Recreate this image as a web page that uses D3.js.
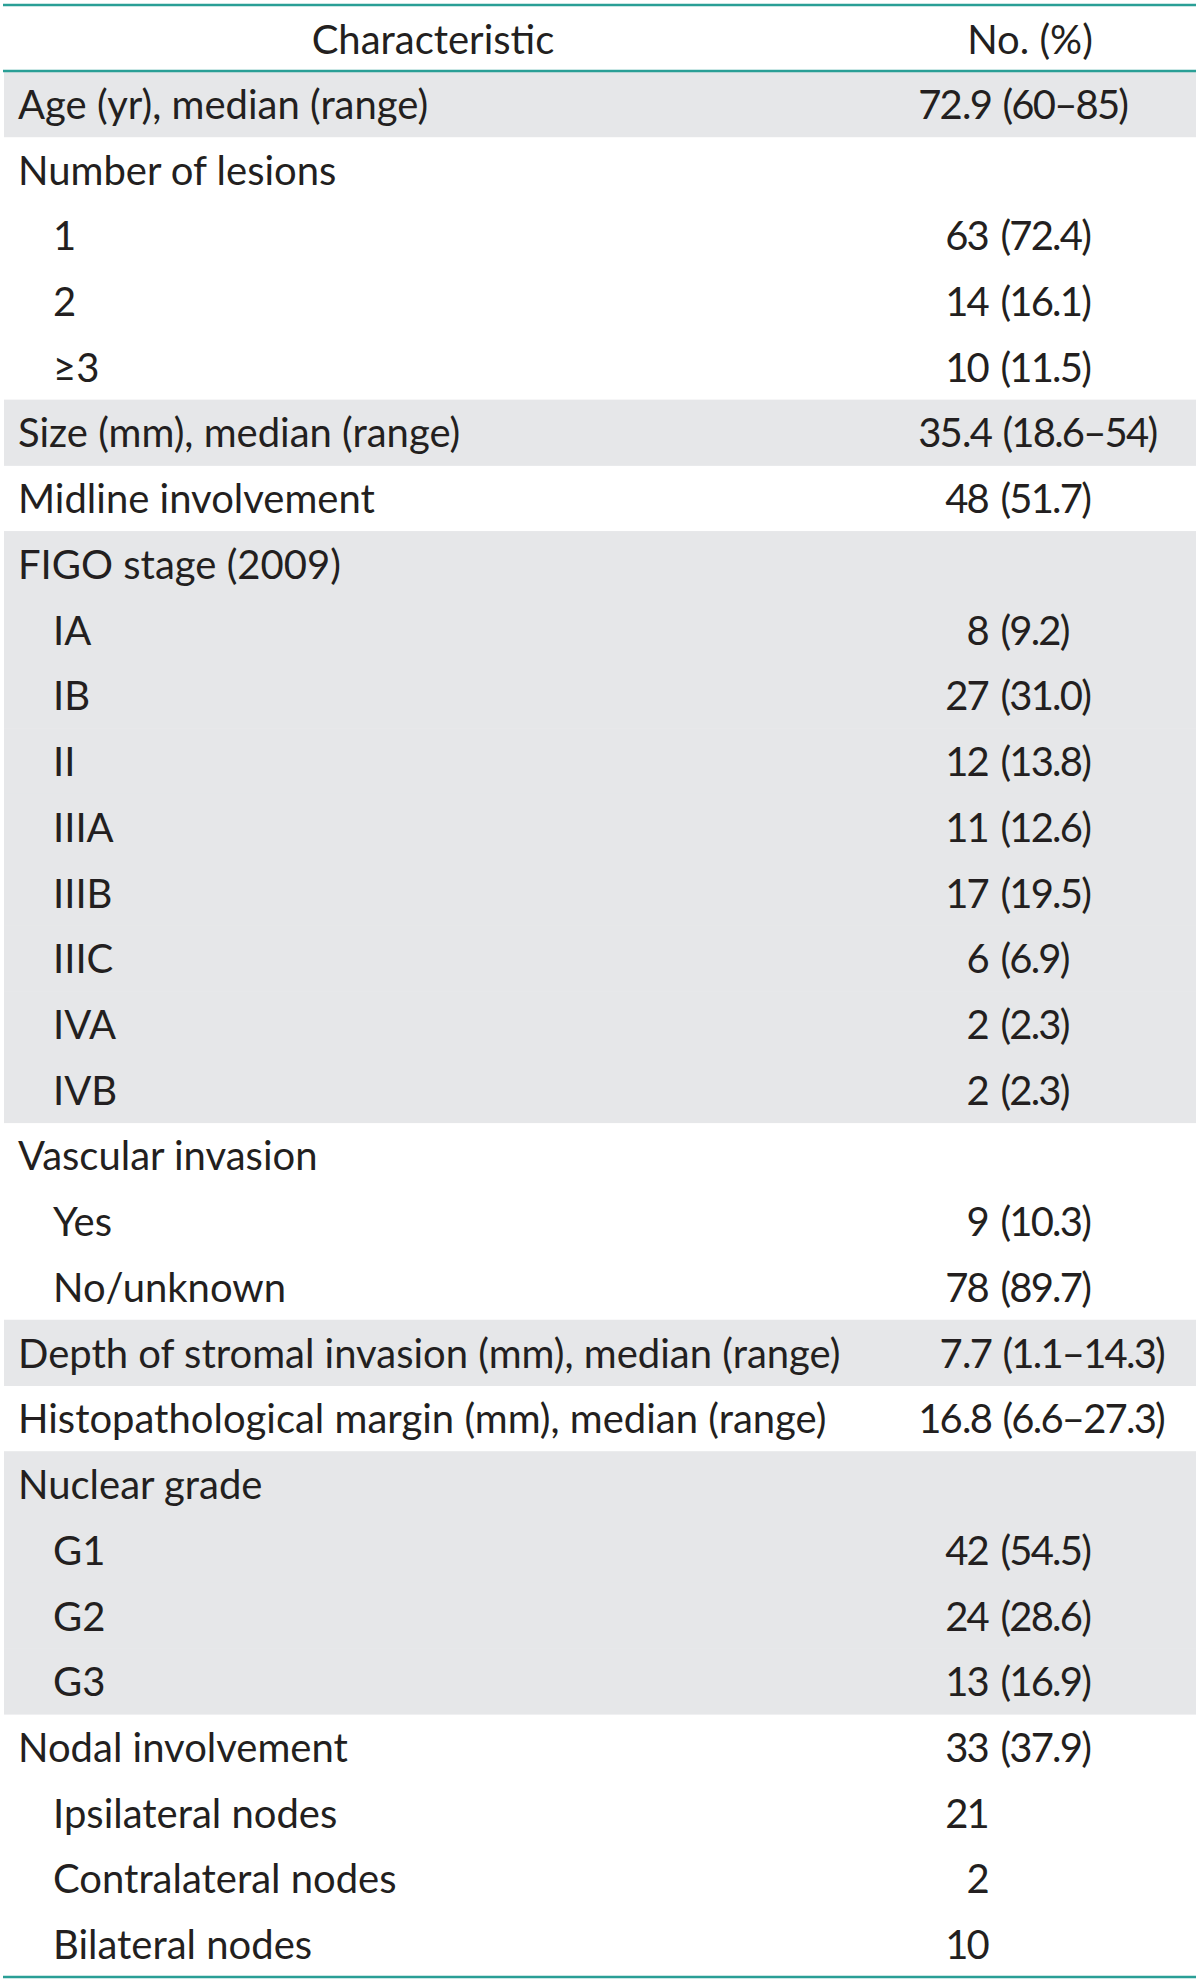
<!DOCTYPE html>
<html>
<head>
<meta charset="utf-8">
<script src="https://cdn.jsdelivr.net/npm/d3@7"></script>
<style>
  body { margin: 0; background: #fff; }
  svg text { font-family: Lato, "Open Sans", sans-serif; fill: #231f20; white-space: pre; }
  svg text.whole, svg text.rest { letter-spacing: -1.8px; word-spacing: 3px; }
</style>
</head>
<body>
<div id="table1"></div>
<script>
// table content
var headers = ["Characteristic", "No. (%)"];

var rowLabels = [
  "Age (yr), median (range)", "Number of lesions", "1", "2", "\u22653",
  "Size (mm), median (range)", "Midline involvement", "FIGO stage (2009)",
  "IA", "IB", "II", "IIIA", "IIIB", "IIIC", "IVA", "IVB",
  "Vascular invasion", "Yes", "No/unknown",
  "Depth of stromal invasion (mm), median (range)",
  "Histopathological margin (mm), median (range)",
  "Nuclear grade", "G1", "G2", "G3",
  "Nodal involvement", "Ipsilateral nodes", "Contralateral nodes", "Bilateral nodes"
];

// 0 = section row, 1 = sub-item
var rowLevels = [0, 0, 1, 1, 1, 0, 0, 0, 1, 1, 1, 1, 1, 1, 1, 1, 0, 1, 1, 0, 0, 0, 1, 1, 1, 0, 1, 1, 1];

var rowValues = [
  "72.9 (60\u201385)", "", "63 (72.4)", "14 (16.1)", "10 (11.5)",
  "35.4 (18.6\u201354)", "48 (51.7)", "",
  "8 (9.2)", "27 (31.0)", "12 (13.8)", "11 (12.6)", "17 (19.5)", "6 (6.9)", "2 (2.3)", "2 (2.3)",
  "", "9 (10.3)", "78 (89.7)",
  "7.7 (1.1\u201314.3)", "16.8 (6.6\u201327.3)",
  "", "42 (54.5)", "24 (28.6)", "13 (16.9)",
  "33 (37.9)", "21", "2", "10"
];

function drawTable() {
  var w = 1200, h = 1981;
  var left = 3, right = 1196;
  var headTop = 5, headBottom = 71, tableBottom = 1977;
  var fontSize = 40;

  var svg = d3.select("#table1")
    .append("svg")
    .attr("width", w)
    .attr("height", h);

  var yScale = d3.scaleBand()
    .domain(d3.range(rowLabels.length))
    .range([headBottom, tableBottom]);

  // groups alternate shading, starting with a shaded one
  var group = -1;
  var shaded = rowLevels.map(function(lv) {
    if (lv === 0) group++;
    return group % 2 === 0;
  });

  svg.append("g")
    .selectAll("rect")
    .data(d3.range(rowLabels.length).filter(function(i) { return shaded[i]; }))
    .enter()
    .append("rect")
    .attr("x", left + 1)
    .attr("y", function(i) { return yScale(i); })
    .attr("width", right - left - 1)
    .attr("height", yScale.bandwidth() + 0.5)
    .attr("fill", "#e6e7e9");

  // rule lines
  svg.append("g")
    .selectAll("line")
    .data([headTop, headBottom, tableBottom])
    .enter()
    .append("line")
    .attr("x1", left)
    .attr("x2", right)
    .attr("y1", function(d) { return d; })
    .attr("y2", function(d) { return d; })
    .attr("stroke", "#2a9f96")
    .attr("stroke-width", 2.6);

  var baseOff = yScale.bandwidth() / 2 + 15;

  // header
  svg.append("text")
    .attr("x", 433)
    .attr("y", 54)
    .attr("text-anchor", "middle")
    .style("font-size", fontSize + "px")
    .text(headers[0]);
  svg.append("text")
    .attr("x", 1030)
    .attr("y", 54)
    .attr("text-anchor", "middle")
    .style("font-size", fontSize + "px")
    .text(headers[1]);

  // labels
  svg.append("g")
    .selectAll("text")
    .data(rowLabels)
    .enter()
    .append("text")
    .attr("x", function(d, i) { return rowLevels[i] ? 53 : 18; })
    .attr("y", function(d, i) { return yScale(i) + baseOff; })
    .style("font-size", fontSize + "px")
    .text(function(d) { return d; });

  // values: integer part right-aligned, remainder follows
  var parts = rowValues.map(function(v, i) {
    var m = v.match(/^(\d+)(.*)$/);
    return m ? { i: i, whole: m[1], rest: m[2], range: v.indexOf("\u2013") >= 0 } : null;
  }).filter(function(d) { return d; });

  function anchorX(d) { return d.range ? 961 : 988; }

  var vals = svg.append("g");
  vals.selectAll("text.whole")
    .data(parts)
    .enter()
    .append("text")
    .attr("class", "whole")
    .attr("x", anchorX)
    .attr("y", function(d) { return yScale(d.i) + baseOff; })
    .attr("text-anchor", "end")
    .style("font-size", fontSize + "px")
    .text(function(d) { return d.whole; });

  vals.selectAll("text.rest")
    .data(parts)
    .enter()
    .append("text")
    .attr("class", "rest")
    .attr("x", function(d) { return anchorX(d) + 1; })
    .attr("y", function(d) { return yScale(d.i) + baseOff; })
    .style("font-size", fontSize + "px")
    .text(function(d) { return d.rest; });
}

window.onload = function () {
  drawTable();
};
</script>
</body>
</html>
